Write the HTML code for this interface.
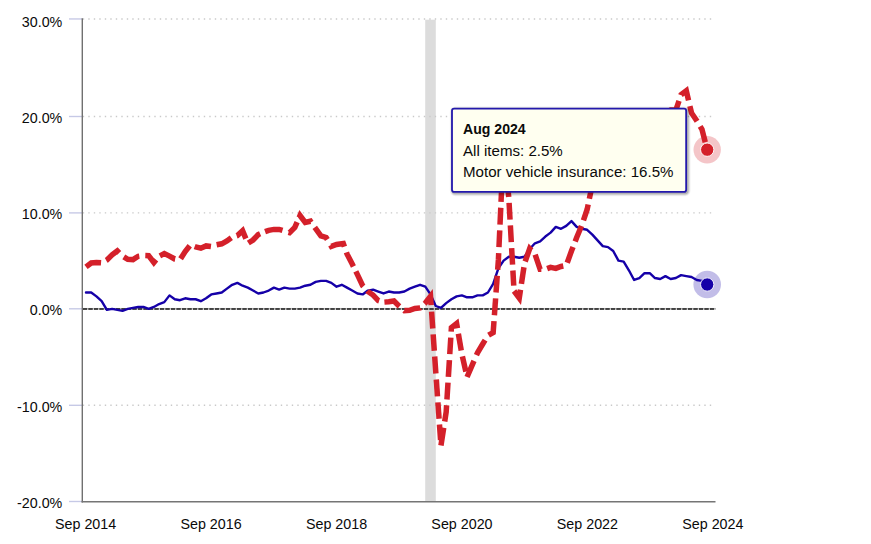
<!DOCTYPE html>
<html><head><meta charset="utf-8"><title>CPI chart</title>
<style>html,body{margin:0;padding:0;background:#fff;}body{width:871px;height:544px;overflow:hidden;position:relative;font-family:"Liberation Sans",sans-serif;}</style></head>
<body>
<svg width="871" height="544" viewBox="0 0 871 544" style="display:block;position:absolute;left:0;top:0">
<rect width="871" height="544" fill="#fff"/>
<rect x="425.2" y="19.7" width="10.6" height="482" fill="#dcdcdc"/>
<path d="M82.8 18.95 H715" stroke="#c9c9c9" stroke-width="1.375" stroke-dasharray="1.375 4.125" fill="none"/>
<path d="M82.8 116.50 H715" stroke="#c9c9c9" stroke-width="1.375" stroke-dasharray="1.375 4.125" fill="none"/>
<path d="M82.8 212.90 H715" stroke="#c9c9c9" stroke-width="1.375" stroke-dasharray="1.375 4.125" fill="none"/>
<path d="M82.8 308.80 H715" stroke="#c9c9c9" stroke-width="1.375" stroke-dasharray="1.375 4.125" fill="none"/>
<path d="M82.8 405.30 H715" stroke="#c9c9c9" stroke-width="1.375" stroke-dasharray="1.375 4.125" fill="none"/>
<path d="M82.8 308.45 H715.6" stroke="#d6d6d6" stroke-width="1" fill="none"/>
<path d="M82.8 308.95 H715.6" stroke="#111" stroke-width="1.45" stroke-dasharray="4.5 1.0" fill="none"/>
<path d="M69 18.95 H82" stroke="#c6c9e6" stroke-width="1.375" fill="none"/>
<path d="M69 116.50 H82" stroke="#c6c9e6" stroke-width="1.375" fill="none"/>
<path d="M69 212.90 H82" stroke="#c6c9e6" stroke-width="1.375" fill="none"/>
<path d="M69 308.80 H82" stroke="#c6c9e6" stroke-width="1.375" fill="none"/>
<path d="M69 405.30 H82" stroke="#c6c9e6" stroke-width="1.375" fill="none"/>
<path d="M69 501.50 H82" stroke="#c6c9e6" stroke-width="1.375" fill="none"/>
<path d="M82.3 18.3 V502.5" stroke="#707070" stroke-width="1.4" fill="none"/>
<path d="M81.6 501.8 H715.5" stroke="#757575" stroke-width="1.4" fill="none"/>
<path d="M86.00 292.50 L91.22 292.50 L96.44 296.35 L101.66 301.18 L106.88 309.86 L112.10 308.90 L117.32 309.86 L122.54 310.83 L127.76 308.90 L132.98 307.94 L138.20 306.97 L143.42 306.97 L148.64 308.90 L153.86 306.97 L159.08 304.07 L164.30 302.14 L169.52 295.39 L174.74 299.25 L179.96 300.21 L185.18 298.28 L190.40 299.25 L195.62 299.25 L200.84 301.18 L206.06 298.28 L211.28 294.42 L216.50 293.46 L221.72 292.50 L226.94 288.63 L232.16 284.77 L237.38 282.84 L242.60 285.74 L247.82 287.67 L253.04 290.56 L258.26 293.46 L263.48 292.50 L268.70 290.56 L273.92 287.67 L279.14 289.60 L284.36 287.67 L289.58 288.63 L294.80 288.63 L300.02 287.67 L305.24 285.74 L310.46 284.77 L315.68 281.88 L320.90 280.91 L326.12 280.91 L331.34 282.84 L336.56 286.70 L341.78 284.77 L347.00 287.67 L352.22 290.56 L357.44 293.46 L362.66 294.42 L367.88 290.56 L373.10 289.60 L378.32 291.53 L383.54 293.46 L388.76 291.53 L393.98 292.50 L399.20 292.50 L404.42 291.53 L409.64 288.63 L414.86 286.70 L420.08 284.77 L425.30 286.70 L430.52 294.42 L435.74 306.00 L440.96 307.94 L446.18 303.11 L451.40 299.25 L456.62 296.35 L461.84 295.39 L467.06 297.32 L472.28 297.32 L477.50 295.39 L482.72 295.39 L487.94 292.50 L493.16 283.81 L498.38 268.37 L503.60 260.65 L508.82 256.79 L514.04 256.79 L519.26 257.75 L524.48 256.79 L529.70 249.07 L534.92 243.28 L540.14 241.35 L545.36 236.52 L550.58 232.66 L555.80 226.87 L561.02 228.80 L566.24 225.91 L571.46 221.08 L576.68 226.87 L581.90 228.80 L587.12 229.77 L592.34 234.59 L597.56 240.38 L602.78 246.17 L608.00 247.14 L613.22 251.00 L618.44 260.65 L623.66 261.61 L628.88 270.30 L634.10 279.95 L639.32 278.02 L644.54 273.19 L649.76 273.19 L654.98 278.02 L660.20 278.98 L665.42 276.09 L670.64 278.98 L675.86 278.02 L681.08 275.12 L686.30 276.09 L691.52 277.05 L696.74 279.95 L701.96 280.91 L707.18 284.77" stroke="#1500a8" stroke-width="2.4" fill="none" stroke-linejoin="round" stroke-linecap="round"/>
<g stroke="#d4202a" stroke-width="5.5" fill="none" stroke-linejoin="miter">
<path d="M86.00 266.90 L91.22 263.00 L96.44 262.50 L101.66 262.90 L106.18 260.39" stroke-dasharray="16.40 5.76"/>
<path d="M106.18 260.39 L106.88 260.00 L112.10 254.90 L117.32 250.90 L122.54 256.10 L123.79 256.89" stroke-dasharray="17.41 6.12"/>
<path d="M123.79 256.89 L127.76 259.40 L132.98 259.60 L138.20 256.30 L143.42 255.50 L145.30 255.57" stroke-dasharray="17.21 6.05"/>
<path d="M145.30 255.57 L148.64 255.70 L153.86 262.50 L159.08 256.30 L159.86 255.90" stroke-dasharray="15.46 5.43"/>
<path d="M159.86 255.90 L164.30 253.60 L169.52 256.10 L174.74 259.00 L179.96 259.80 L180.60 258.79" stroke-dasharray="17.19 6.04"/>
<path d="M180.60 258.79 L185.18 251.50 L190.40 244.90 L194.68 246.54" stroke-dasharray="15.99 5.62"/>
<path d="M194.68 246.54 L195.62 246.90 L200.84 248.20 L206.06 245.90 L211.28 246.60 L216.50 244.80 L216.63 244.78" stroke-dasharray="17.03 5.98"/>
<path d="M216.63 244.78 L221.72 243.80 L226.94 241.00 L232.16 237.20 L236.67 235.82" stroke-dasharray="16.49 5.79"/>
<path d="M236.67 235.82 L237.38 235.60 L242.60 230.80 L247.82 243.30 L248.33 242.98" stroke-dasharray="16.27 5.72"/>
<path d="M248.33 242.98 L253.04 240.00 L258.26 234.50 L263.48 232.20 L265.06 231.62" stroke-dasharray="15.20 5.34"/>
<path d="M265.06 231.62 L268.70 230.30 L273.92 229.40 L279.14 229.40 L284.36 231.00 L288.53 232.28" stroke-dasharray="17.91 6.29"/>
<path d="M288.53 232.28 L289.58 232.60 L294.80 227.40 L299.13 217.54" stroke-dasharray="14.23 5.00"/>
<path d="M299.13 217.54 L300.02 215.50 L305.24 222.40 L310.46 221.20 L314.75 227.37" stroke-dasharray="17.57 6.17"/>
<path d="M314.75 227.37 L315.68 228.70 L320.90 235.80 L326.12 237.50 L330.60 245.05" stroke-dasharray="18.28 6.42"/>
<path d="M330.60 245.05 L331.34 246.30 L336.56 244.40 L343.30 243.50 L346.44 252.41" stroke-dasharray="17.21 6.05"/>
<path d="M346.44 252.41 L347.00 254.00 L352.22 264.00 L355.85 271.38" stroke-dasharray="15.68 5.51"/>
<path d="M355.85 271.38 L357.44 274.60 L362.66 285.60 L367.27 290.82" stroke-dasharray="16.82 5.91"/>
<path d="M367.27 290.82 L367.88 291.50 L373.10 295.10 L378.32 300.60 L383.54 302.20 L384.41 302.13" stroke-dasharray="15.67 5.50"/>
<path d="M384.41 302.13 L388.76 301.80 L393.98 301.00 L399.20 306.20 L404.17 310.39" stroke-dasharray="17.40 6.11"/>
<path d="M404.17 310.39 L404.42 310.60 L409.64 310.30 L414.86 308.40 L420.08 307.90 L424.57 303.69" stroke-dasharray="16.65 5.85"/>
<path d="M424.57 303.69 L425.30 303.00 L430.52 296.30 L431.58 311.57" stroke-dasharray="18.36 6.45"/>
<path d="M431.58 311.57 L433.16 334.37" stroke-dasharray="16.91 5.94"/>
<path d="M433.16 334.37 L434.69 356.48" stroke-dasharray="16.40 5.76"/>
<path d="M434.69 356.48 L435.74 371.60 L436.30 379.48" stroke-dasharray="17.06 5.99"/>
<path d="M436.30 379.48 L437.91 402.38" stroke-dasharray="16.99 5.97"/>
<path d="M437.91 402.38 L439.47 424.47" stroke-dasharray="16.39 5.76"/>
<path d="M439.47 424.47 L440.96 445.50" stroke-dasharray="15.60 5.48"/>
<path d="M440.96 445.50 L444.70 421.52" stroke-dasharray="17.96 6.31"/>
<path d="M444.70 421.52 L446.18 412.00 L446.95 399.50" stroke-dasharray="16.39 5.76"/>
<path d="M446.95 399.50 L448.36 376.80" stroke-dasharray="16.83 5.91"/>
<path d="M448.36 376.80 L449.76 354.20" stroke-dasharray="16.76 5.89"/>
<path d="M449.76 354.20 L451.15 331.70" stroke-dasharray="16.68 5.86"/>
<path d="M451.15 331.70 L451.40 327.70 L456.62 323.50 L458.36 333.69" stroke-dasharray="15.58 5.47"/>
<path d="M458.36 333.69 L461.84 354.00 L462.39 356.43" stroke-dasharray="17.10 6.01"/>
<path d="M462.39 356.43 L467.06 377.00" stroke-dasharray="15.61 5.48"/>
<path d="M467.06 377.00 L472.28 364.80 L476.46 355.20" stroke-dasharray="17.57 6.17"/>
<path d="M476.46 355.20 L477.50 352.80 L482.72 344.00 L487.94 335.60 L488.57 335.22" stroke-dasharray="17.37 6.10"/>
<path d="M488.57 335.22 L493.16 332.50 L494.41 315.20" stroke-dasharray="16.78 5.90"/>
<path d="M494.41 315.20 L496.04 292.52" stroke-dasharray="16.83 5.91"/>
<path d="M496.04 292.52 L497.67 269.81" stroke-dasharray="16.85 5.92"/>
<path d="M497.67 269.81 L498.38 260.00 L503.60 145.80 L508.82 198.00 L511.63 248.10" stroke-dasharray="16.78 5.90"/>
<path d="M511.63 248.10 L512.89 270.50" stroke-dasharray="16.60 5.83"/>
<path d="M512.89 270.50 L514.04 291.00" stroke-dasharray="15.19 5.34"/>
<path d="M514.04 291.00 L519.26 298.00 L521.41 283.79" stroke-dasharray="17.09 6.01"/>
<path d="M521.41 283.79 L524.48 263.50 L525.17 261.52" stroke-dasharray="16.74 5.88"/>
<path d="M525.17 261.52 L529.70 248.50 L534.92 253.90 L535.16 254.61" stroke-dasharray="16.32 5.73"/>
<path d="M535.16 254.61 L540.14 269.30 L545.36 269.33 L547.14 268.68" stroke-dasharray="16.74 5.88"/>
<path d="M547.14 268.68 L550.58 267.40 L555.80 268.37 L561.02 266.44 L566.24 265.47 L567.23 262.72" stroke-dasharray="16.86 5.92"/>
<path d="M567.23 262.72 L571.46 251.00 L575.17 241.40" stroke-dasharray="16.83 5.91"/>
<path d="M575.17 241.40 L576.68 237.49 L581.90 224.94 L583.43 220.41" stroke-dasharray="16.70 5.87"/>
<path d="M583.43 220.41 L587.12 209.50 L589.36 198.73" stroke-dasharray="16.66 5.85"/>
<path d="M589.36 198.73 L592.34 184.41 L597.56 179.59 L602.78 171.87 L608.00 167.04 L613.22 168.97 L618.44 164.15 L623.66 159.32 L628.88 143.88 L634.10 145.81 L639.32 137.13 L644.54 124.58 L649.76 126.51 L654.98 123.62 L660.20 123.62 L665.42 113.00 L670.64 110.11 L675.86 110.11 L681.08 94.67 L686.30 90.81 L689.88 106.03" stroke-dasharray="16.81 5.91"/>
<path d="M689.88 106.03 L691.52 113.00 L696.74 120.72 L700.16 126.42" stroke-dasharray="17.12 6.01"/>
<path d="M700.16 126.42 L701.96 129.41 L707.18 149.67" stroke-dasharray="16.72 5.88"/>
</g>
<circle cx="707.2" cy="284.5" r="13.8" fill="#1500a8" fill-opacity="0.26"/>
<circle cx="707.2" cy="284.5" r="6.65" fill="#1500a8" stroke="#fff" stroke-width="0.9"/>
<circle cx="707.2" cy="149.7" r="13.7" fill="#d4202a" fill-opacity="0.26"/>
<circle cx="707.2" cy="149.7" r="6.65" fill="#d4202a" stroke="#fff" stroke-width="0.9"/>
<rect x="453.1" y="109.65" width="234.15" height="83.3" rx="2.2" fill="none" stroke="#000" stroke-opacity="0.06" stroke-width="6.5"/>
<rect x="453.1" y="109.65" width="234.15" height="83.3" rx="2.2" fill="none" stroke="#000" stroke-opacity="0.10" stroke-width="4.5"/>
<rect x="453.1" y="109.65" width="234.15" height="83.3" rx="2.2" fill="none" stroke="#000" stroke-opacity="0.16" stroke-width="2.5"/>
<rect x="452.0" y="108.55" width="234.15" height="83.3" rx="2.2" fill="#fffff0" stroke="#2318ac" stroke-width="1.8"/>
<text transform="translate(62.3 26.85) scale(1 1.075)" text-anchor="end" style="font-family:'Liberation Sans',sans-serif;font-size:14.3px;fill:#0a0a0a">30.0%</text>
<text transform="translate(62.3 122.50) scale(1 1.075)" text-anchor="end" style="font-family:'Liberation Sans',sans-serif;font-size:14.3px;fill:#0a0a0a">20.0%</text>
<text transform="translate(62.3 218.90) scale(1 1.075)" text-anchor="end" style="font-family:'Liberation Sans',sans-serif;font-size:14.3px;fill:#0a0a0a">10.0%</text>
<text transform="translate(62.3 314.80) scale(1 1.075)" text-anchor="end" style="font-family:'Liberation Sans',sans-serif;font-size:14.3px;fill:#0a0a0a">0.0%</text>
<text transform="translate(62.3 411.80) scale(1 1.075)" text-anchor="end" style="font-family:'Liberation Sans',sans-serif;font-size:14.3px;fill:#0a0a0a">-10.0%</text>
<text transform="translate(62.3 507.70) scale(1 1.075)" text-anchor="end" style="font-family:'Liberation Sans',sans-serif;font-size:14.3px;fill:#0a0a0a">-20.0%</text>
<text transform="translate(85.60 528.8) scale(1 1.075)" text-anchor="middle" style="font-family:'Liberation Sans',sans-serif;font-size:14.3px;fill:#0a0a0a">Sep 2014</text>
<text transform="translate(211.05 528.8) scale(1 1.075)" text-anchor="middle" style="font-family:'Liberation Sans',sans-serif;font-size:14.3px;fill:#0a0a0a">Sep 2016</text>
<text transform="translate(336.50 528.8) scale(1 1.075)" text-anchor="middle" style="font-family:'Liberation Sans',sans-serif;font-size:14.3px;fill:#0a0a0a">Sep 2018</text>
<text transform="translate(461.95 528.8) scale(1 1.075)" text-anchor="middle" style="font-family:'Liberation Sans',sans-serif;font-size:14.3px;fill:#0a0a0a">Sep 2020</text>
<text transform="translate(587.40 528.8) scale(1 1.075)" text-anchor="middle" style="font-family:'Liberation Sans',sans-serif;font-size:14.3px;fill:#0a0a0a">Sep 2022</text>
<text transform="translate(712.85 528.8) scale(1 1.075)" text-anchor="middle" style="font-family:'Liberation Sans',sans-serif;font-size:14.3px;fill:#0a0a0a">Sep 2024</text>
<text transform="translate(463 134.4) scale(1 1.09)" style="font-family:'Liberation Sans',sans-serif;font-size:15.1px;fill:#0a0a0a;font-weight:bold;font-size:14.1px">Aug 2024</text>
<text transform="translate(463 155.6) scale(1 1.03)" style="font-family:'Liberation Sans',sans-serif;font-size:15.1px;fill:#0a0a0a">All items: 2.5%</text>
<text transform="translate(463 176.6) scale(1 1.03)" style="font-family:'Liberation Sans',sans-serif;font-size:15.1px;fill:#0a0a0a">Motor vehicle insurance: 16.5%</text>
</svg>
</body></html>
